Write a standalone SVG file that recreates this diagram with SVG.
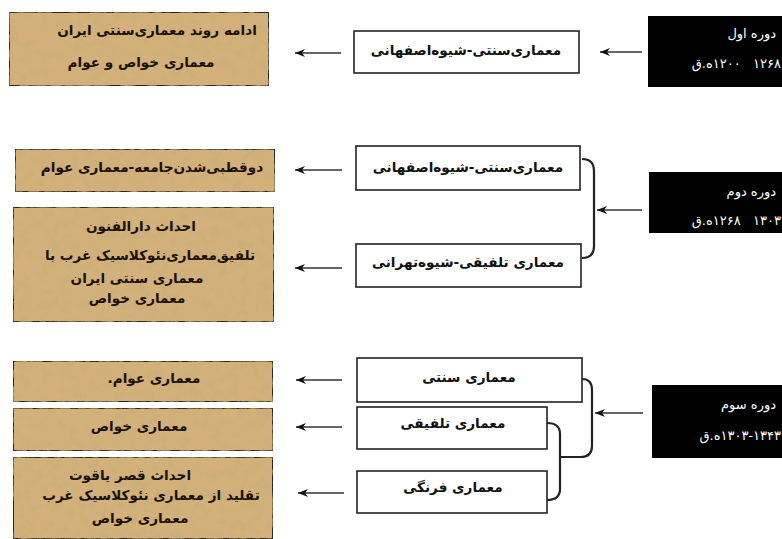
<svg xmlns="http://www.w3.org/2000/svg" width="782" height="539" viewBox="0 0 782 539">
<style>
.tan{fill:#d4b07a;stroke:#2b2520;stroke-width:2}
.wb{fill:#fff;stroke:#222;stroke-width:1.6}
.blk{fill:#000}
.t{font-family:'DejaVu Sans',sans-serif;font-weight:bold;font-size:13.6px;fill:#1a1208;text-anchor:middle;direction:rtl}
.m{font-family:'DejaVu Sans',sans-serif;font-weight:bold;font-size:13.6px;fill:#111;text-anchor:middle;direction:rtl}
.w{font-family:'DejaVu Sans',sans-serif;font-size:13px;fill:#fff;text-anchor:start;direction:rtl}
.ar{fill:none;stroke:#333;stroke-width:1.6;marker-end:url(#ah)}
.br{fill:none;stroke:#222;stroke-width:2.2}
</style>
<defs>
<marker id="ah" markerUnits="userSpaceOnUse" markerWidth="12" markerHeight="10" refX="10" refY="4" orient="auto">
<path d="M0,0 L10,4 L0,8 L3,4 z" fill="#111"/>
</marker>
<filter id="tex" x="0" y="0" width="1" height="1">
<feTurbulence type="fractalNoise" baseFrequency="0.1" numOctaves="4" seed="7" result="n"/>
<feColorMatrix in="n" type="matrix" values="0 0 0 0 0.58  0 0 0 0 0.42  0 0 0 0 0.2  0 0 0 -1.6 1.0" result="c"/>
<feComposite in="c" in2="SourceGraphic" operator="atop"/>
</filter>
</defs>

<g id="left-boxes">
<g id="a1"><rect class="tan" x="9" y="12" width="260" height="74" filter="url(#tex)"/>
<text class="t" x="157" y="35">ادامه روند معماری‌سنتی ایران</text>
<text class="t" x="141" y="67">معماری خواص و عوام</text></g>
<g id="b1"><rect class="tan" x="15" y="149" width="260" height="43" filter="url(#tex)"/>
<text class="t" x="152" y="172">دوقطبی‌شدن‌جامعه-معماری عوام</text></g>
<g id="b2"><rect class="tan" x="13" y="207" width="261" height="115" filter="url(#tex)"/>
<text class="t" x="141" y="231">احداث دارالفنون</text>
<text class="t" x="150" y="260">تلفیق‌معماری‌نئوکلاسیک غرب با</text>
<text class="t" x="137" y="283">معماری سنتی ایران</text>
<text class="t" x="137" y="303">معماری خواص</text></g>
<g id="c1"><rect class="tan" x="13" y="361" width="260" height="41" filter="url(#tex)"/>
<text class="t" x="154" y="383">معماری عوام.</text></g>
<g id="c2"><rect class="tan" x="13" y="408" width="260" height="43" filter="url(#tex)"/>
<text class="t" x="139" y="431">معماری خواص</text></g>
<g id="c3"><rect class="tan" x="13" y="457" width="260" height="82" filter="url(#tex)"/>
<text class="t" x="130" y="480">احداث قصر یاقوت</text>
<text class="t" x="151" y="500">تقلید از معماری نئوکلاسیک غرب</text>
<text class="t" x="140" y="523">معماری خواص</text></g>
</g>

<g id="middle-boxes">
<g id="m1"><rect class="wb" x="354" y="31" width="225" height="42"/>
<text class="m" x="466" y="55">معماری‌سنتی-شیوه‌اصفهانی</text></g>
<g id="m2"><rect class="wb" x="356" y="146" width="224" height="44"/>
<text class="m" x="468" y="172">معماری‌سنتی-شیوه‌اصفهانی</text></g>
<g id="m3"><rect class="wb" x="356" y="244" width="225" height="43"/>
<text class="m" x="468" y="267">معماری تلفیقی-شیوه‌تهرانی</text></g>
<g id="mc1"><rect class="wb" x="357" y="358" width="225" height="44"/>
<text class="m" x="469" y="382">معماری سنتی</text></g>
<g id="mc2"><rect class="wb" x="357" y="407" width="190" height="42"/>
<text class="m" x="453" y="428">معماری تلفیقی</text></g>
<g id="mc3"><rect class="wb" x="357" y="471" width="190" height="42"/>
<text class="m" x="453" y="492">معماری فرنگی</text></g>
</g>

<g id="periods">
<g id="k1"><rect class="blk" x="648" y="16" width="134" height="71"/>
<text class="w" x="776" y="38">دوره اول</text>
<text class="w" x="781" y="68" xml:space="preserve">۱۲۶۸   ۱۲۰۰ه.ق</text></g>
<g id="k2"><rect class="blk" x="649" y="172" width="133" height="61"/>
<text class="w" x="776" y="196">دوره دوم</text>
<text class="w" x="781" y="225" xml:space="preserve">۱۳۰۳   ۱۲۶۸ه.ق</text></g>
<g id="k3"><rect class="blk" x="652" y="385" width="130" height="73"/>
<text class="w" x="776" y="409">دوره سوم</text>
<text class="w" x="781" y="440">۱۳۰۳-۱۳۴۳ه.ق</text></g>
</g>

<g id="connectors">
<line class="ar" x1="341" y1="53" x2="295" y2="53"/>
<line class="ar" x1="342" y1="170" x2="295" y2="170"/>
<line class="ar" x1="342" y1="268" x2="295" y2="268"/>
<line class="ar" x1="342" y1="380" x2="296" y2="380"/>
<line class="ar" x1="342" y1="427" x2="296" y2="427"/>
<line class="ar" x1="344" y1="493" x2="298" y2="493"/>
<line class="ar" x1="642" y1="52" x2="600" y2="52"/>
<line class="ar" x1="642" y1="210" x2="597" y2="210"/>
<line class="ar" x1="643" y1="413" x2="595" y2="413"/>
<path class="br" d="M582,159 Q594,159 594,171 L594,246 Q594,258 582,258"/>
<path class="br" d="M582,379 Q592,379 592,390 L592,446 Q592,457 581,457 L560,457"/>
<path class="br" d="M547,423 Q560,423 560,434 L560,489 Q560,500 547,500"/>
</g>
</svg>
